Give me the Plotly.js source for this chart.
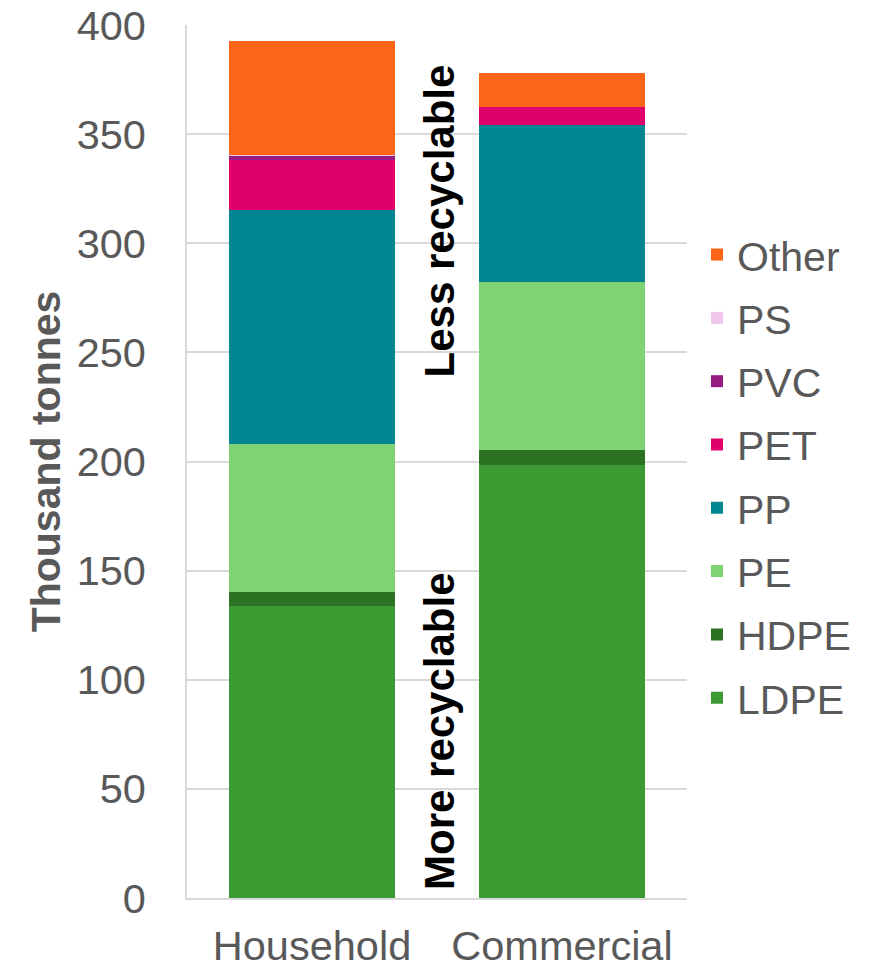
<!DOCTYPE html>
<html>
<head>
<meta charset="utf-8">
<script src="https://cdn.plot.ly/plotly-3.0.1.min.js"></script>
<style>html,body{margin:0;padding:0;background:#fff;}#chart{width:881px;height:970px;}</style>
</head>
<body>
<div id="chart"></div>
<script>
const categories = ["Household", "Commercial"];
const seriesNames = ["LDPE", "HDPE", "PE", "PP", "PET", "PVC", "PS", "Other"];
const LDPE  = [134.0, 198.5];
const HDPE  = [6.0, 6.9];
const PE    = [68.2, 76.8];
const PP    = [107.0, 72.0];
const PET   = [22.8, 8.1];
const PVC   = [2.0, 0.0];
const PS    = [0.3, 0.0];
const Other = [52.2, 15.7];
const seriesValues = [LDPE, HDPE, PE, PP, PET, PVC, PS, Other];
const seriesColors = ["#3C9A32", "#2D7222", "#7ED474", "#008591", "#E0006B", "#951B81", "#F2C6EA", "#FA6518"];
const yTicks = [0, 50, 100, 150, 200, 250, 300, 350, 400];
const labelLess = "Less recyclable";
const labelMore = "More recyclable";

const FONT = "Liberation Sans, Arial, sans-serif";
const GREY = "#595959";

const traces = seriesNames.map((name, i) => ({
  type: "bar",
  name: name,
  x: categories,
  y: seriesValues[i],
  marker: {color: seriesColors[i], line: {width: 0}},
  legendgroup: name,
  legendrank: 1000 - i * 10,
  hoverinfo: "name+y"
}));

const layout = {
  width: 881,
  height: 970,
  margin: {l: 187, r: 194, t: 25, b: 71.5},
  paper_bgcolor: "#ffffff",
  plot_bgcolor: "#ffffff",
  barmode: "stack",
  bargap: 0.336,
  font: {family: FONT, size: 41, color: GREY},
  showlegend: true,
  legend: {
    x: 1.02, xanchor: "left",
    y: 0.775, yanchor: "top",
    traceorder: "grouped",
    tracegroupgap: 7,
    font: {family: FONT, size: 41, color: GREY},
    bgcolor: "rgba(0,0,0,0)",
    itemclick: false
  },
  xaxis: {
    type: "category",
    showgrid: false,
    showline: true,
    linecolor: "#d9d9d9",
    linewidth: 1.5,
    ticks: "",
    ticklabelstandoff: 10,
    tickfont: {family: FONT, size: 41.5, color: GREY},
    fixedrange: true
  },
  yaxis: {
    range: [0, 400],
    tickvals: yTicks,
    ticktext: yTicks.map(String),
    showgrid: true,
    gridcolor: "#d9d9d9",
    gridwidth: 1.5,
    showline: true,
    linecolor: "#d9d9d9",
    linewidth: 1.5,
    zeroline: false,
    ticks: "",
    ticklabelstandoff: 31,
    tickfont: {family: FONT, size: 41.5, color: GREY},
    title: {text: "<b>Thousand tonnes</b>", font: {family: FONT, size: 41, color: GREY}, standoff: 3},
    fixedrange: true
  },
  annotations: [
    {x: 0.51, xref: "x", y: 310.2, yref: "y", text: "<b>" + labelLess + "</b>", textangle: -90,
     showarrow: false, font: {family: FONT, size: 42, color: "#000000"}},
    {x: 0.51, xref: "x", y: 76.3, yref: "y", text: "<b>" + labelMore + "</b>", textangle: -90,
     showarrow: false, font: {family: FONT, size: 42, color: "#000000"}}
  ]
};

Plotly.newPlot("chart", traces, layout, {displayModeBar: false, staticPlot: false});
</script>
</body>
</html>
